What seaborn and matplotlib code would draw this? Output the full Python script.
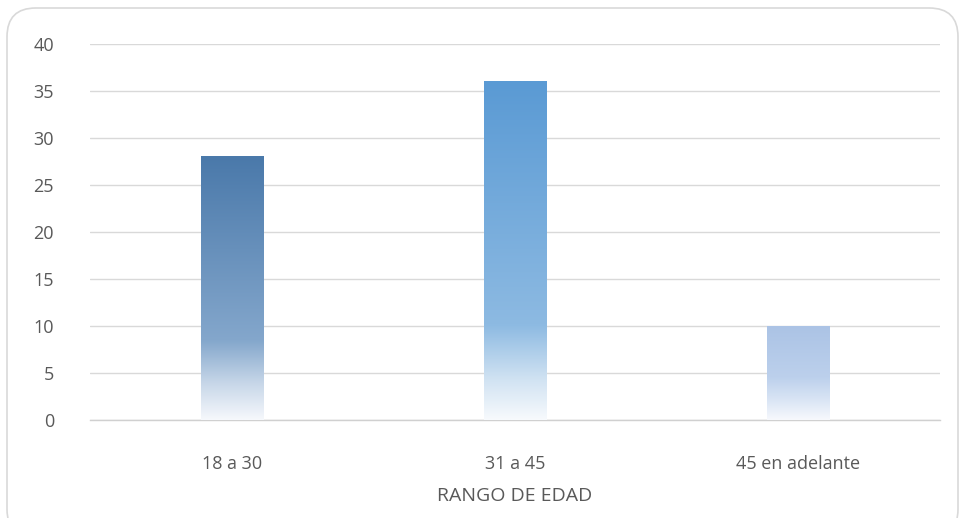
import numpy as np
import pandas as pd
import seaborn as sns
import matplotlib
matplotlib.use("Agg")
import matplotlib.pyplot as plt
from matplotlib.colors import LinearSegmentedColormap
from matplotlib.patches import FancyBboxPatch

categories = ["18 a 30", "31 a 45", "45 en adelante"]
values = [28, 36, 10]
y_ticks = [0, 5, 10, 15, 20, 25, 30, 35, 40]
x_title = "RANGO DE EDAD"

# gradient stops per bar: (position from top, colour)
bar_gradients = [
    [(0.0, "#4a79aa"), (0.70, "#84a7cc"), (0.86, "#c6d6e8"), (1.0, "#f6f8fc")],
    [(0.0, "#5a9ad4"), (0.72, "#8dbae2"), (0.88, "#d0e2f2"), (1.0, "#f7fafd")],
    [(0.0, "#abc3e5"), (0.55, "#bcd0ec"), (0.80, "#dbe6f5"), (1.0, "#f7f9fd")],
]

sns.set_theme(style="white")
plt.rcParams["font.family"] = ["Open Sans", "DejaVu Sans"]
text_color = "#595959"

fig = plt.figure(figsize=(9.61, 5.18), dpi=100)
ax = fig.add_axes([0.0937, 0.189, 0.8843, 0.727])

df = pd.DataFrame({"rango": categories, "n": values})
sns.barplot(data=df, x="rango", y="n", ax=ax, width=0.22, color="#5b9bd5",
            saturation=1, zorder=3)

ax.set_ylim(0, 40)
ax.set_xlim(-0.5, 2.5)
ax.set_yticks(y_ticks)
ax.yaxis.grid(True, color="#d9d9d9", linewidth=1.0, zorder=0)
ax.set_axisbelow(True)
for s in ["top", "right", "left"]:
    ax.spines[s].set_visible(False)
ax.spines["bottom"].set_color("#d0d0d0")
ax.spines["bottom"].set_linewidth(1.0)
ax.tick_params(axis="both", length=0, labelsize=13, colors=text_color)
ax.tick_params(axis="y", pad=26)
ax.tick_params(axis="x", pad=25)
ax.set_ylabel("")
ax.set_xlabel(x_title, fontsize=14, color=text_color, labelpad=10)

# replace flat fills with vertical gradients clipped to each bar
for patch, stops in zip(ax.patches, bar_gradients):
    cmap = LinearSegmentedColormap.from_list("g", stops)
    x0, y0 = patch.get_x(), patch.get_y()
    w, h = patch.get_width(), patch.get_height()
    grad = np.linspace(0, 1, 256).reshape(-1, 1)
    im = ax.imshow(grad, cmap=cmap, aspect="auto", origin="upper",
                   extent=[x0, x0 + w, y0, y0 + h], zorder=3,
                   interpolation="bilinear")
    im.set_clip_path(patch)
    patch.set_facecolor("none")
    patch.set_edgecolor("none")

ax.set_xlim(-0.5, 2.5)
ax.set_ylim(0, 40)

# rounded outer frame
frame = FancyBboxPatch((7 / 961, -20 / 518), 951 / 961, (518 - 8 + 20) / 518,
                       boxstyle="round,pad=0,rounding_size=0.03",
                       transform=fig.transFigure, facecolor="none",
                       edgecolor="#d9d9d9", linewidth=1.2, mutation_aspect=961 / 518)
fig.patches.append(frame)

fig.savefig("out.png", dpi=100)
